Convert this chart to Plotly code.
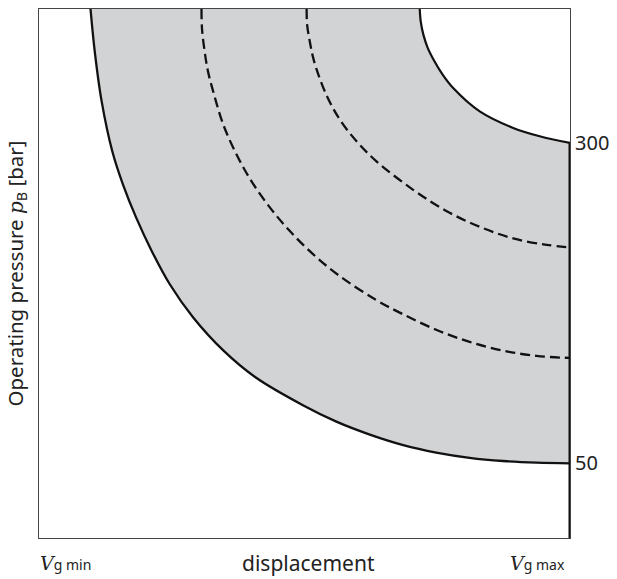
import plotly.graph_objects as go

# ---- data (displacement as fraction of the V_g min..V_g max span, pressure in bar) ----
outer_x = [0.097, 0.105, 0.118, 0.138, 0.158, 0.183, 0.212, 0.246, 0.290, 0.347,
           0.409, 0.497, 0.560, 0.623, 0.686, 0.748, 0.811, 0.874, 0.937, 1.0]
outer_p = [404.5, 371.3, 332.4, 293.5, 267.7, 241.7, 215.9, 189.9, 164.0, 138.1,
           116.7, 95.3, 82.5, 72.4, 64.2, 58.4, 54.3, 51.8, 50.5, 50.0]

inner_x = [0.717, 0.719, 0.724, 0.732, 0.745, 0.759, 0.780, 0.830, 0.893, 0.943, 1.0]
inner_p = [404.5, 394.4, 384.3, 374.2, 363.5, 354.0, 342.8, 324.6, 311.7, 305.2, 300.0]

dash1_x = [0.306, 0.307, 0.312, 0.318, 0.328, 0.347, 0.372, 0.400, 0.435, 0.472,
           0.516, 0.566, 0.635, 0.686, 0.748, 0.811, 0.874, 0.937, 1.0]
dash1_p = [404.5, 388.9, 371.3, 356.3, 340.2, 314.3, 291.0, 270.2, 249.5, 231.4,
           213.2, 196.2, 177.4, 166.2, 154.2, 144.7, 137.9, 133.8, 132.2]

dash2_x = [0.504, 0.505, 0.510, 0.515, 0.522, 0.541, 0.566, 0.598, 0.635, 0.704,
           0.767, 0.830, 0.893, 0.956, 1.0]
dash2_p = [404.5, 392.0, 379.1, 368.7, 358.3, 337.6, 318.5, 301.3, 285.8, 263.6,
           246.9, 234.5, 225.5, 220.5, 218.4]

tick_vals = [50, 300]
tick_text = ["50", "300"]

Y_MIN, Y_MAX = -8.3, 404.5

INK = "#111111"
GREY = "#d2d3d5"
TXT = "#222222"
FONT = "Noto Sans"
SMOOTH = 1.0

fig = go.Figure()

# shaded operating region between the outer and inner limit curves
fig.add_trace(go.Scatter(x=outer_x, y=outer_p, mode="lines",
                         line=dict(width=0, color=GREY, shape="spline", smoothing=SMOOTH),
                         hoverinfo="skip", showlegend=False))
fig.add_trace(go.Scatter(x=inner_x, y=inner_p, mode="lines", fill="tonexty",
                         fillcolor=GREY,
                         line=dict(width=0, color=GREY, shape="spline", smoothing=SMOOTH),
                         hoverinfo="skip", showlegend=False))

fig.add_trace(go.Scatter(x=outer_x, y=outer_p, mode="lines",
                         line=dict(color=INK, width=2.3, shape="spline", smoothing=SMOOTH),
                         showlegend=False, cliponaxis=False))
fig.add_trace(go.Scatter(x=inner_x, y=inner_p, mode="lines",
                         line=dict(color=INK, width=2.2, shape="spline", smoothing=SMOOTH),
                         showlegend=False, cliponaxis=False))
for dx, dp in [(dash1_x, dash1_p), (dash2_x, dash2_p)]:
    fig.add_trace(go.Scatter(x=dx, y=dp, mode="lines",
                             line=dict(color=INK, width=2.3, dash="10px,5px",
                                       shape="spline", smoothing=SMOOTH),
                             showlegend=False, cliponaxis=False))

# thick right-hand pressure axis from the upper limit down
fig.add_trace(go.Scatter(x=[inner_x[-1], inner_x[-1]], y=[inner_p[-1], Y_MIN],
                         mode="lines", line=dict(color=INK, width=3),
                         showlegend=False, cliponaxis=False))

fig.update_layout(
    width=609, height=571,
    margin=dict(l=31, r=47, t=1, b=41),
    paper_bgcolor="white", plot_bgcolor="white",
    font=dict(family=FONT, color=TXT),
    xaxis=dict(range=[0, 1], showgrid=False, zeroline=False, showticklabels=False,
               ticks="", showline=True, mirror=True, linecolor="#444444", linewidth=1),
    yaxis=dict(range=[Y_MIN, Y_MAX], showgrid=False, zeroline=False, side="right",
               tickvals=tick_vals, ticktext=tick_text, ticks="",
               tickfont=dict(size=20, family=FONT, color=TXT),
               showline=True, mirror=True, linecolor="#444444", linewidth=1),
)

serif = "font-family:'DejaVu Serif';font-size:19px"
fig.add_annotation(xref="paper", yref="paper", x=0, y=0, xanchor="left", yanchor="top",
                   yshift=-12, xshift=-1, showarrow=False,
                   text=f"<span style=\"{serif}\"><i>V</i></span><span style=\"font-size:14px\">g min</span>",
                   font=dict(size=14, family=FONT, color=TXT))
fig.add_annotation(xref="paper", yref="paper", x=1, y=0, xanchor="right", yanchor="top",
                   yshift=-12, xshift=-3, showarrow=False,
                   text=f"<span style=\"{serif}\"><i>V</i></span><span style=\"font-size:14px\">g max</span>",
                   font=dict(size=14, family=FONT, color=TXT))
fig.add_annotation(xref="paper", yref="paper", x=0.5, y=0, xanchor="center", yanchor="top",
                   yshift=-9, xshift=4, showarrow=False, text="displacement",
                   font=dict(size=21, family=FONT, color=TXT))
fig.add_annotation(xref="paper", yref="paper", x=0, y=0.5, xanchor="center", yanchor="middle",
                   xshift=-24, showarrow=False, textangle=-90,
                   text=f"Operating pressure <span style=\"font-family:'DejaVu Serif';font-size:20px\"><i>p</i></span><sub>B</sub> [bar]",
                   font=dict(size=20.5, family=FONT, color=TXT))

fig.write_html("out.html")
